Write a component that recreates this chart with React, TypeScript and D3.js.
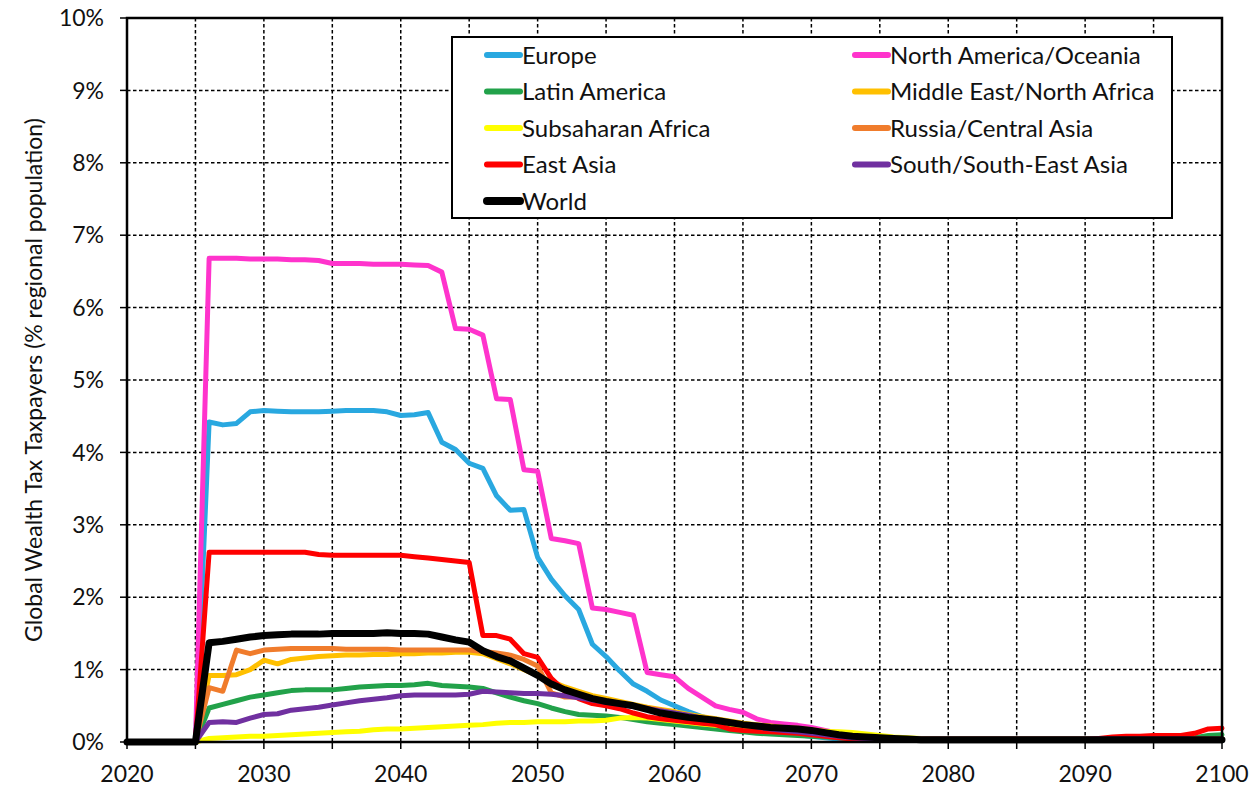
import React from "react";
import * as d3 from "d3";

const YEARS: number[] = d3.range(2020, 2101);

const EUROPE = [0, 0, 0, 0, 0, 0,
  4.42, 4.38, 4.40, 4.56, 4.58, 4.57, 4.56, 4.56, 4.56, 4.57,
  4.58, 4.58, 4.58, 4.56, 4.51, 4.52, 4.55, 4.14, 4.04, 3.85,
  3.78, 3.40, 3.20, 3.21, 2.55, 2.25, 2.02, 1.83, 1.35, 1.18,
  0.98, 0.80, 0.70, 0.58, 0.50, 0.42, 0.35, 0.30, 0.26, 0.22,
  0.18, 0.15, 0.12, 0.10, 0.08, 0.06, 0.04, 0.03, 0.02, 0.02,
  0.02, 0.02, 0.02, 0.02, 0.02, 0.02, 0.02, 0.02, 0.02, 0.02,
  0.02, 0.02, 0.02, 0.02, 0.02, 0.02, 0.02, 0.02, 0.02, 0.02,
  0.02, 0.02, 0.02, 0.02, 0.02];

const NORTH_AMERICA = [0, 0, 0, 0, 0, 0,
  6.68, 6.68, 6.68, 6.67, 6.67, 6.67, 6.66, 6.66, 6.65, 6.61,
  6.61, 6.61, 6.60, 6.60, 6.60, 6.59, 6.58, 6.49, 5.71, 5.70,
  5.62, 4.74, 4.73, 3.76, 3.74, 2.81, 2.78, 2.74, 1.85, 1.83,
  1.79, 1.75, 0.96, 0.93, 0.90, 0.74, 0.62, 0.50, 0.45, 0.41,
  0.32, 0.27, 0.25, 0.23, 0.20, 0.16, 0.12, 0.09, 0.07, 0.06,
  0.05, 0.05, 0.04, 0.04, 0.04, 0.04, 0.04, 0.04, 0.04, 0.04,
  0.04, 0.04, 0.04, 0.04, 0.04, 0.04, 0.04, 0.04, 0.04, 0.04,
  0.04, 0.04, 0.04, 0.04, 0.04];

const LATIN_AMERICA = [0, 0, 0, 0, 0, 0,
  0.47, 0.52, 0.57, 0.62, 0.65, 0.68, 0.71, 0.72, 0.72, 0.72,
  0.74, 0.76, 0.77, 0.78, 0.78, 0.79, 0.81, 0.78, 0.77, 0.76,
  0.74, 0.68, 0.62, 0.57, 0.53, 0.47, 0.42, 0.38, 0.37, 0.36,
  0.34, 0.31, 0.28, 0.26, 0.24, 0.22, 0.20, 0.18, 0.16, 0.14,
  0.12, 0.11, 0.10, 0.09, 0.08, 0.07, 0.06, 0.05, 0.04, 0.04,
  0.04, 0.04, 0.04, 0.04, 0.04, 0.04, 0.04, 0.04, 0.04, 0.04,
  0.04, 0.04, 0.04, 0.04, 0.04, 0.04, 0.04, 0.04, 0.04, 0.04,
  0.04, 0.05, 0.06, 0.09, 0.10];

const MIDDLE_EAST = [0, 0, 0, 0, 0, 0,
  0.92, 0.92, 0.93, 1.00, 1.13, 1.08, 1.14, 1.16, 1.18, 1.19,
  1.20, 1.20, 1.21, 1.21, 1.22, 1.22, 1.23, 1.23, 1.24, 1.24,
  1.22, 1.15, 1.08, 1.00, 0.92, 0.84, 0.76, 0.70, 0.64, 0.60,
  0.56, 0.52, 0.48, 0.45, 0.42, 0.38, 0.35, 0.32, 0.29, 0.26,
  0.24, 0.22, 0.20, 0.19, 0.17, 0.15, 0.13, 0.11, 0.09, 0.07,
  0.06, 0.05, 0.04, 0.04, 0.04, 0.04, 0.04, 0.04, 0.04, 0.04,
  0.04, 0.04, 0.04, 0.04, 0.04, 0.04, 0.04, 0.04, 0.04, 0.04,
  0.04, 0.04, 0.04, 0.04, 0.04];

const SUBSAHARAN = [0, 0, 0, 0, 0, 0,
  0.05, 0.06, 0.07, 0.08, 0.08, 0.09, 0.10, 0.11, 0.12, 0.13,
  0.14, 0.15, 0.17, 0.18, 0.18, 0.19, 0.20, 0.21, 0.22, 0.23,
  0.24, 0.26, 0.27, 0.27, 0.28, 0.28, 0.28, 0.29, 0.29, 0.30,
  0.33, 0.34, 0.33, 0.31, 0.29, 0.27, 0.25, 0.23, 0.21, 0.20,
  0.19, 0.18, 0.17, 0.16, 0.15, 0.14, 0.14, 0.13, 0.11, 0.09,
  0.07, 0.06, 0.05, 0.04, 0.04, 0.04, 0.04, 0.04, 0.04, 0.04,
  0.04, 0.04, 0.04, 0.04, 0.04, 0.04, 0.04, 0.04, 0.04, 0.04,
  0.04, 0.04, 0.04, 0.04, 0.04];

const RUSSIA = [0, 0, 0, 0, 0, 0,
  0.75, 0.70, 1.27, 1.22, 1.27, 1.28, 1.29, 1.29, 1.29, 1.29,
  1.28, 1.28, 1.28, 1.28, 1.27, 1.27, 1.27, 1.27, 1.27, 1.27,
  1.25, 1.23, 1.20, 1.14, 1.05, 0.68, 0.62, 0.62, 0.60, 0.57,
  0.54, 0.50, 0.47, 0.44, 0.40, 0.36, 0.33, 0.30, 0.27, 0.24,
  0.22, 0.20, 0.18, 0.16, 0.14, 0.12, 0.10, 0.08, 0.06, 0.05,
  0.04, 0.04, 0.04, 0.04, 0.04, 0.04, 0.04, 0.04, 0.04, 0.04,
  0.04, 0.04, 0.04, 0.04, 0.04, 0.04, 0.04, 0.04, 0.04, 0.04,
  0.04, 0.04, 0.04, 0.04, 0.04];

const EAST_ASIA = [0, 0, 0, 0, 0, 0,
  2.62, 2.62, 2.62, 2.62, 2.62, 2.62, 2.62, 2.62, 2.59, 2.58,
  2.58, 2.58, 2.58, 2.58, 2.58, 2.56, 2.54, 2.52, 2.50, 2.48,
  1.47, 1.47, 1.42, 1.22, 1.17, 0.88, 0.70, 0.60, 0.53, 0.50,
  0.46, 0.40, 0.35, 0.32, 0.30, 0.28, 0.26, 0.24, 0.18, 0.16,
  0.15, 0.14, 0.13, 0.12, 0.10, 0.08, 0.06, 0.04, 0.03, 0.02,
  0.02, 0.02, 0.02, 0.02, 0.02, 0.02, 0.02, 0.02, 0.02, 0.02,
  0.02, 0.02, 0.02, 0.02, 0.03, 0.05, 0.07, 0.08, 0.08, 0.09,
  0.09, 0.09, 0.12, 0.18, 0.19];

const SOUTH_ASIA = [0, 0, 0, 0, 0, 0,
  0.27, 0.28, 0.27, 0.33, 0.38, 0.39, 0.44, 0.46, 0.48, 0.51,
  0.54, 0.57, 0.59, 0.61, 0.64, 0.65, 0.65, 0.65, 0.65, 0.66,
  0.70, 0.69, 0.68, 0.67, 0.67, 0.66, 0.64, 0.61, 0.58, 0.55,
  0.52, 0.49, 0.46, 0.43, 0.40, 0.37, 0.33, 0.30, 0.27, 0.24,
  0.21, 0.18, 0.16, 0.14, 0.12, 0.10, 0.08, 0.06, 0.05, 0.04,
  0.04, 0.04, 0.04, 0.04, 0.04, 0.04, 0.04, 0.04, 0.04, 0.04,
  0.04, 0.04, 0.04, 0.04, 0.04, 0.04, 0.04, 0.04, 0.04, 0.04,
  0.04, 0.04, 0.04, 0.04, 0.04];

const WORLD = [0, 0, 0, 0, 0, 0,
  1.37, 1.39, 1.42, 1.45, 1.47, 1.48, 1.49, 1.49, 1.49, 1.50,
  1.50, 1.50, 1.50, 1.51, 1.50, 1.50, 1.49, 1.45, 1.41, 1.38,
  1.26, 1.18, 1.12, 1.02, 0.92, 0.80, 0.72, 0.66, 0.60, 0.56,
  0.53, 0.50, 0.45, 0.40, 0.37, 0.34, 0.32, 0.30, 0.27, 0.24,
  0.22, 0.20, 0.19, 0.18, 0.16, 0.13, 0.10, 0.08, 0.07, 0.06,
  0.05, 0.04, 0.03, 0.03, 0.03, 0.03, 0.03, 0.03, 0.03, 0.03,
  0.03, 0.03, 0.03, 0.03, 0.03, 0.03, 0.03, 0.03, 0.03, 0.03,
  0.03, 0.03, 0.03, 0.03, 0.03];

const SERIES_NAMES = ["Europe", "North America/Oceania", "Latin America", "Middle East/North Africa",
  "Subsaharan Africa", "Russia/Central Asia", "East Asia", "South/South-East Asia", "World"];
const SERIES_VALUES = [EUROPE, NORTH_AMERICA, LATIN_AMERICA, MIDDLE_EAST, SUBSAHARAN, RUSSIA, EAST_ASIA, SOUTH_ASIA, WORLD];
const SERIES_COLORS = ["#29A8E0", "#FF33CC", "#22A24A", "#FFC000", "#FFFF00", "#F07C2C", "#FF0000", "#7030A0", "#000000"];
const SERIES_WIDTHS = [5, 5, 5, 5, 5, 5, 5, 5, 7];

const X_TICKS = [2020, 2030, 2040, 2050, 2060, 2070, 2080, 2090, 2100];
const X_GRID = d3.range(2025, 2100, 5);
const Y_TICKS = [0, 1, 2, 3, 4, 5, 6, 7, 8, 9, 10];

// legend layout: [column, row] for each series
const LEGEND_POS = [[0, 0], [1, 0], [0, 1], [1, 1], [0, 2], [1, 2], [0, 3], [1, 3], [0, 4]];

const FONT = "Lato, 'DejaVu Sans', sans-serif";

export default function App() {
  const W = 1252, H = 788;
  const left = 127, right = 1222, top = 18, bottom = 742;
  const x = d3.scaleLinear().domain([2020, 2100]).range([left, right]);
  const y = d3.scaleLinear().domain([0, 10]).range([bottom, top]);
  const line = d3.line<number>().x((_, i) => x(YEARS[i])).y((d) => y(d));

  const legX = 452, legY = 37, legW = 720, legH = 181;
  const colX = [487, 855];
  const rowY0 = 55, rowDy = 36.5;

  return (
    <svg width={W} height={H} style={{ position: "absolute", left: 0, top: 0, background: "#fff" }}>
      <rect x={0} y={0} width={W} height={H} fill="#fff" />
      {/* grid */}
      {Y_TICKS.filter((t) => t > 0).map((t) => (
        <line key={"gy" + t} x1={left} x2={right} y1={y(t)} y2={y(t)} stroke="#000" strokeWidth={1.5} strokeDasharray="3.5,2.5" />
      ))}
      {X_GRID.map((t) => (
        <line key={"gx" + t} x1={x(t)} x2={x(t)} y1={top} y2={bottom} stroke="#000" strokeWidth={1.5} strokeDasharray="3.5,2.5" />
      ))}
      {/* ticks */}
      {Y_TICKS.map((t) => (
        <line key={"ty" + t} x1={left - 7} x2={left} y1={y(t)} y2={y(t)} stroke="#000" strokeWidth={1.5} />
      ))}
      {d3.range(2020, 2101, 5).map((t) => (
        <line key={"tx" + t} x1={x(t)} x2={x(t)} y1={bottom} y2={bottom + 7} stroke="#000" strokeWidth={1.5} />
      ))}
      {/* series */}
      {SERIES_VALUES.map((vals, i) => (
        <path key={"s" + i} d={line(vals) || ""} fill="none" stroke={SERIES_COLORS[i]}
          strokeWidth={SERIES_WIDTHS[i]} strokeLinejoin="round" strokeLinecap="round" />
      ))}
      {/* frame */}
      <rect x={left} y={top} width={right - left} height={bottom - top} fill="none" stroke="#000" strokeWidth={2.5} />
      {/* y labels */}
      {Y_TICKS.map((t) => (
        <text key={"ly" + t} x={left - 23} y={y(t)} dy="0.36em" textAnchor="end" fontFamily={FONT} fontSize={23} fill="#111">
          {t + "%"}
        </text>
      ))}
      {X_TICKS.map((t) => (
        <text key={"lx" + t} x={x(t)} y={782} textAnchor="middle" fontFamily={FONT} fontSize={23} fill="#111">
          {t}
        </text>
      ))}
      <text transform={`translate(42, ${(top + bottom) / 2}) rotate(-90)`} textAnchor="middle" fontFamily={FONT} fontSize={23} fill="#111">
        Global Wealth Tax Taxpayers (% regional population)
      </text>
      {/* legend */}
      <rect x={legX} y={legY} width={legW} height={legH} fill="#fff" stroke="#000" strokeWidth={2} />
      {SERIES_NAMES.map((name, i) => {
        const [c, r] = LEGEND_POS[i];
        const lx = colX[c];
        const ly = rowY0 + r * rowDy;
        return (
          <g key={"lg" + i}>
            <line x1={lx} x2={lx + 33} y1={ly} y2={ly} stroke={SERIES_COLORS[i]} strokeWidth={SERIES_WIDTHS[i] + 1} strokeLinecap="round" />
            <text x={lx + 35} y={ly} dy="0.36em" fontFamily={FONT} fontSize={24} fill="#111">{name}</text>
          </g>
        );
      })}
    </svg>
  );
}
